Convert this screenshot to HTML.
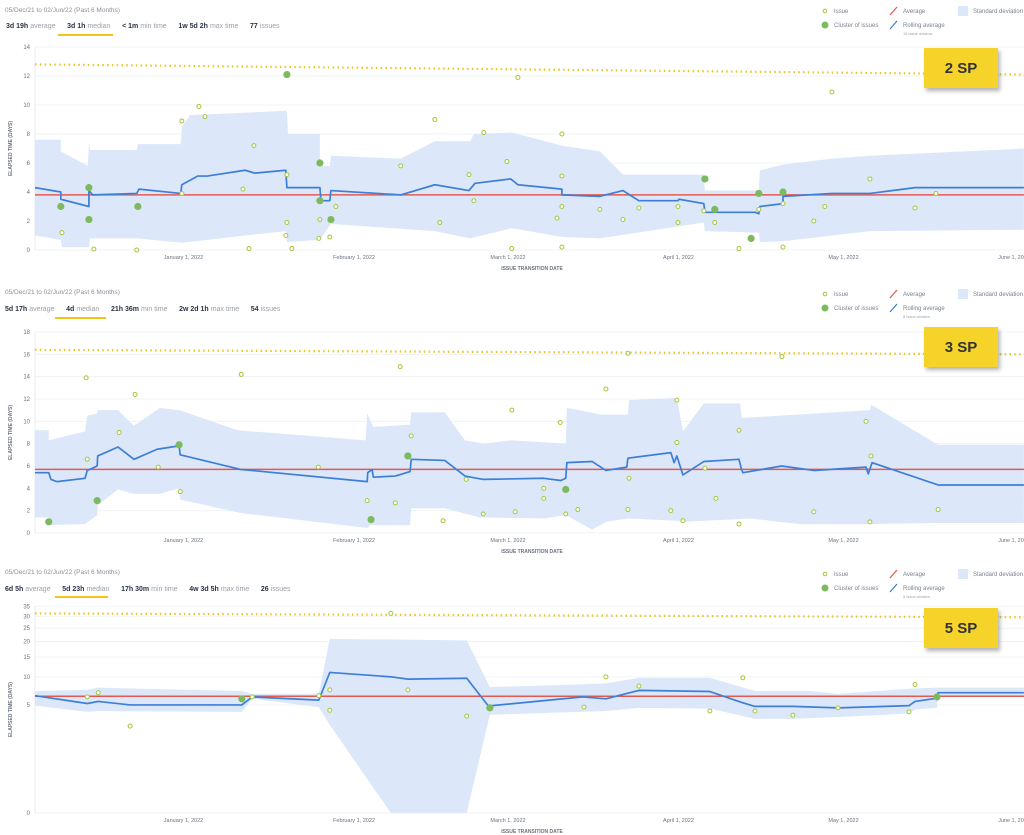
<!DOCTYPE html>
<html><head><meta charset="utf-8">
<style>
body{margin:0;width:1024px;height:835px;background:#fff;font-family:"Liberation Sans",sans-serif;overflow:hidden;position:relative}
.t{position:absolute;white-space:nowrap;color:#8a8f98;font-size:6.5px}
.st{position:absolute;white-space:nowrap;font-size:7px;color:#9aa0a8}
.st b{color:#2a3344;margin-right:2px}
.ul{position:absolute;height:2px;background:#f0c419}
.tag{position:absolute;width:74px;height:40px;background:#f5d328;box-shadow:2px 3px 4px rgba(0,0,0,.3);font:bold 15px "Liberation Sans",sans-serif;color:#333;display:flex;align-items:center;justify-content:center}
svg{position:absolute;left:0;top:0}
</style></head><body>
<svg id="svg" width="1024" height="835"></svg>

<div class="t" style="left:5px;top:7px">05/Dec/21 to 02/Jun/22 (Past 6 Months)</div>
<div class="st" style="left:6px;top:23px"><b>3d 19h</b>average &nbsp;&nbsp;&nbsp;&nbsp; <b>3d 1h</b>median &nbsp;&nbsp;&nbsp;&nbsp; <b>&lt; 1m</b>min time &nbsp;&nbsp;&nbsp;&nbsp; <b>1w 5d 2h</b>max time &nbsp;&nbsp;&nbsp;&nbsp; <b>77</b>issues</div>
<div class="ul" style="left:58px;top:34px;width:55px"></div>

<div class="t" style="left:5px;top:289px">05/Dec/21 to 02/Jun/22 (Past 6 Months)</div>
<div class="st" style="left:5px;top:306px"><b>5d 17h</b>average &nbsp;&nbsp;&nbsp;&nbsp; <b>4d</b>median &nbsp;&nbsp;&nbsp;&nbsp; <b>21h 36m</b>min time &nbsp;&nbsp;&nbsp;&nbsp; <b>2w 2d 1h</b>max time &nbsp;&nbsp;&nbsp;&nbsp; <b>54</b>issues</div>
<div class="ul" style="left:55px;top:317px;width:51px"></div>

<div class="t" style="left:5px;top:569px">05/Dec/21 to 02/Jun/22 (Past 6 Months)</div>
<div class="st" style="left:5px;top:586px"><b>6d 5h</b>average &nbsp;&nbsp;&nbsp;&nbsp; <b>5d 23h</b>median &nbsp;&nbsp;&nbsp;&nbsp; <b>17h 30m</b>min time &nbsp;&nbsp;&nbsp;&nbsp; <b>4w 3d 5h</b>max time &nbsp;&nbsp;&nbsp;&nbsp; <b>26</b>issues</div>
<div class="ul" style="left:55px;top:596px;width:53px"></div>

<div class="tag" style="left:924px;top:48px">2 SP</div>
<div class="tag" style="left:924px;top:327px">3 SP</div>
<div class="tag" style="left:924px;top:608px">5 SP</div>

<script>
// ---- Chart 1 (2 SP) data ----
const c1IssueDays=[4.9,10.7,18.5,26.7,29.8,30.9,26.7,37.8,39.8,38.9,45.8,45.8,45.6,46.7,51.8,51.6,53.6,54.7,66.5,72.7,73.6,78.9,79.8,81.6,85.8,86.7,87.8,95.8,95.8,95.8,94.9,95.8,102.7,106.9,109.8,116.9,116.9,121.6,123.6,128,131.6,136,136,141.6,143.6,144.9,151.8,160,163.8];
const c1IssueVals=[1.2,0.07,0,8.9,9.9,9.2,3.9,4.2,7.2,0.1,5.2,1.9,1.0,0.1,2.1,0.8,0.9,3.0,5.8,9.0,1.9,5.2,3.4,8.1,6.1,0.1,11.9,8.0,5.1,3.0,2.2,0.2,2.8,2.1,2.9,3.0,1.9,2.7,1.9,0.1,2.8,3.2,0.2,2.0,3.0,10.9,4.9,2.9,3.9];
const c1ClusterDays=[4.7,9.8,9.8,18.7,45.8,51.8,51.8,53.8,121.8,123.6,130.2,131.6,136];
const c1ClusterVals=[3.0,4.3,2.1,3.0,12.1,6.0,3.4,2.1,4.9,2.8,0.8,3.9,4.0];
const c1RollDays=[0,4.7,4.7,9.8,9.8,10.5,18.5,18.9,26.5,26.7,29.6,31.3,38.2,40,45.6,45.8,51.8,52,53.6,53.8,66.5,72.7,78.9,80,86.5,87.8,95.8,95.8,102.7,106.9,109.8,116.9,117.1,121.6,121.8,131,131.6,131.8,136,136,144.9,151.8,160,179.8];
const c1RollVals=[4.3,4.0,3.5,3.0,4.1,3.8,3.9,4.2,3.9,4.5,5.1,5.1,5.5,5.3,5.5,4.3,4.3,3.4,3.4,4.1,3.8,4.5,4.1,4.6,4.9,4.5,4.2,3.8,3.7,4.1,3.4,3.4,3.5,3.2,2.6,2.6,2.5,3.0,3.2,3.7,3.9,3.9,4.3,4.3];
const c1UpDays=[0,4.7,4.7,9.6,9.8,10.0,18.5,18.7,26.5,26.7,28.2,45.8,46,51.8,51.8,53.6,53.8,66.5,72.7,79.1,79.8,86.7,95.8,102.7,106.9,121.6,121.8,131.6,131.8,136,144.9,151.8,179.8];
const c1UpVals=[7.6,7.6,6.8,5.8,7.4,6.9,6.9,7.3,7.3,8.5,9.3,9.6,8.0,8.0,5.8,5.8,6.5,6.3,7.5,7.5,8.0,8.1,7.2,6.8,5.2,5.2,4.1,4.1,5.5,5.9,6.3,6.5,7.0];
const c1LoDays=[0,4.7,4.9,9.8,10,18.5,26.7,38.2,45.6,45.8,51.8,53.8,72.7,79.1,86.7,95.8,102.7,121.6,121.8,131.6,131.8,136,151.8,179.8];
const c1LoVals=[1.0,0.7,0.2,0.2,0.8,0.8,0.5,1.0,1.3,0.55,0.7,1.8,1.3,0.8,1.5,0.9,0.8,1.9,1.3,1.2,0.55,0.6,1.3,1.4];
const c1Avg=3.8;
const c1UclStart=12.8, c1UclEnd=12.1;
const c1Ticks=[0,2,4,6,8,10,12,14];

// ---- Chart 2 (3 SP) data ----
const c2IssueDays=[9.3,9.5,18.2,15.3,22.4,26.4,37.5,51.5,60.4,65.5,66.4,68.4,78.4,81.5,74.2,86.7,95.5,92.5,92.5,87.3,96.5,103.8,107.8,108,98.7,107.8,115.6,116.7,116.7,117.8,121.8,123.8,128,128,135.8,141.6,151.1,152,151.8,164.2];
const c2IssueVals=[13.9,6.6,12.4,9.0,5.9,3.7,14.2,5.9,2.9,2.7,14.9,8.7,4.8,1.7,1.1,11.0,9.9,4.0,3.1,1.9,1.7,12.9,16.1,4.9,2.1,2.1,2.0,11.9,8.1,1.1,5.8,3.1,0.8,9.2,15.8,1.9,10.0,6.9,1.0,2.1];
const c2ClusterDays=[2.5,11.3,26.2,61.1,67.8,96.5];
const c2ClusterVals=[1.0,2.9,7.9,1.2,6.9,3.9];
const c2RollDays=[0,2.5,2.9,4,9.1,9.5,11.3,11.4,15.1,18,22.2,26.2,26.4,37.3,60.4,60.5,61.3,61.5,65.5,68.2,68.4,74.5,78.2,81.5,92.5,95.6,96.5,96.7,101.3,103.8,107.6,107.8,115.6,116.2,116.7,117.8,121.6,128,128.4,128.7,135.8,141.6,151.1,151.5,152.2,164.2,179.8];
const c2RollVals=[5.4,5.4,4.8,4.6,4.9,5.6,6.0,6.9,7.7,6.6,7.5,7.8,7.0,5.7,4.6,5.4,5.7,5.0,5.1,5.5,6.6,6.5,5.1,4.8,4.9,4.7,4.9,6.3,6.4,5.6,5.9,6.7,7.2,6.3,6.9,5.2,6.4,6.6,5.8,5.4,6.0,5.6,5.9,5.3,6.3,4.3,4.3];
const c2UpDays=[0,2.5,2.5,9.1,9.5,11.3,11.4,15.1,18,22.7,26.2,36.9,60.1,60.4,61.5,68.2,68.4,74.5,78.2,81.5,86.7,96.5,96.7,103.1,107.8,108,116.7,117.8,121.6,128.2,128.5,151.8,152,164.2,179.8];
const c2UpVals=[9.2,9.2,8.3,9.1,10.5,10.7,11.0,11.0,9.6,11.2,11.0,9.2,8.3,10.7,9.5,9.7,10.8,10.8,8.3,8.0,8.3,8.0,11.2,10.6,10.6,11.9,12.1,9.1,11.6,11.6,10.3,11.0,11.5,7.9,7.9];
const c2LoDays=[0,2.5,2.7,9.1,11.3,11.4,15.1,18,22.7,26.2,26.4,37.3,60.4,61,68.2,68.4,74.5,80.9,92.5,96.5,101.3,103.8,107.8,116.7,117.8,130,139.1,151.8,164.2,179.8];
const c2LoVals=[1.4,1.4,0.7,0.8,1.6,2.5,3.9,3.5,3.5,4.0,3.0,1.8,0.45,0.7,0.7,2.2,2.2,1.4,1.3,1.6,0.3,1.0,1.3,1.1,1.0,1.3,0.8,0.8,0.9,0.9];
const c2Avg=5.7;
const c2UclStart=16.4, c2UclEnd=16.0;
const c2Ticks=[0,2,4,6,8,10,12,14,16,18];

// ---- Chart 3 (5 SP) data ----
const c3IssueDays=[9.5,11.5,17.3,39.5,51.6,53.6,53.6,64.7,67.8,78.5,103.8,99.8,109.8,122.7,128.7,130.9,137.8,146,158.9,160];
const c3IssueVals=[6.2,6.9,2.6,6.2,6.4,7.4,4.3,31.5,7.4,3.6,10.0,4.7,8.1,4.2,9.8,4.2,3.7,4.6,4.1,8.4];
const c3ClusterDays=[37.6,82.7,164];
const c3ClusterVals=[5.9,4.6,6.2];
const c3RollDays=[0,9.5,11.5,17.3,37.6,39.5,51.6,53.6,64.7,67.8,78.5,82.7,83.1,99.6,103.8,109.8,122.7,128.7,130.9,137.8,146,158.9,160,164,164.2,179.8];
const c3RollVals=[6.4,5.2,5.5,5.0,5.0,6.2,5.7,11.0,10.0,9.5,9.7,4.6,4.9,6.2,5.9,7.3,7.1,5.3,4.8,4.8,4.6,4.9,5.5,6.0,6.9,6.9];
const c3UpDays=[0,9.5,11.5,37.6,39.5,51.6,53.6,78.5,82.7,103.8,109.8,122.7,130.9,140.9,146,158.9,164,164.2,179.8];
const c3UpVals=[7.2,7.4,7.8,7.2,6.7,6.7,20.9,20.4,7.9,8.6,9.8,9.8,7.2,7.2,6.7,7.6,7.8,7.8,7.8];
const c3LoDays=[0,9.5,11.5,37.6,39.5,51.6,53.6,64.7,78.5,82.7,103.8,109.8,122.7,130.9,137.8,146,158.9,160,164,164.2,179.8];
const c3LoVals=[4.9,4.1,4.2,4.1,5.9,4.7,2.7,0,0,3.75,4.2,4.6,4.5,3.3,3.3,3.5,3.9,4.4,4.6,6.4,6.4];
const c3Avg=6.3;
const c3UclStart=31.5, c3UclEnd=29.7;
const c3Ticks=[0,5,10,15,20,25,30,35];

const monthLabels=["January 1, 2022","February 1, 2022","March 1, 2022","April 1, 2022","May 1, 2022","June 1, 2022"];
const monthDays=[27,58,86,117,147,178];

const NS="http://www.w3.org/2000/svg";
const svg=document.getElementById('svg');
function mk(tag,attrs,parent){const e=document.createElementNS(NS,tag);for(const k in attrs)e.setAttribute(k,attrs[k]);(parent||svg).appendChild(e);return e;}
const X0=35,PXD=5.5;
function xs(d){return X0+d*PXD;}

function drawChart(cfg){
  const g=mk('g',{});
  
  
  const ys=cfg.ys;
  // grid + ticks
  cfg.ticks.forEach(t=>{
    const y=ys(t);
    const l=mk('line',{x1:X0,x2:1024,y1:y,y2:y,stroke:'#eef0f3','stroke-width':0.8},g);
    
    
    const tx=mk('text',{x:30,y:y+2,'text-anchor':'end','font-size':6,fill:'#6b7280'},g);
    tx.textContent=t;
    
    
  });
  const ax=mk('line',{x1:X0,x2:X0,y1:ys(cfg.ticks[cfg.ticks.length-1]),y2:ys(0),stroke:'#e5e7eb','stroke-width':0.8},g);
  
  
  // band
  let pts=[];
  cfg.upD.forEach((d,i)=>pts.push(xs(d)+','+ys(cfg.upV[i])));
  for(let i=cfg.loD.length-1;i>=0;i--)pts.push(xs(cfg.loD[i])+','+ys(cfg.loV[i]));
  const band=mk('polygon',{points:pts.join(' '),fill:'#dce8fa'},g);
  
  
  // ucl dotted
  const ucl=mk('line',{x1:X0,x2:1024,y1:ys(cfg.uclS),y2:ys(cfg.uclE),stroke:'#ecc923','stroke-width':2.2,'stroke-dasharray':'1.6 3.2'},g);
  
  
  // average
  const avg=mk('line',{x1:X0,x2:1024,y1:ys(cfg.avg),y2:ys(cfg.avg),stroke:'#e55a4e','stroke-width':1.5},g);
  
  
  // rolling
  const rp=cfg.rD.map((d,i)=>xs(d)+','+ys(cfg.rV[i])).join(' ');
  const roll=mk('polyline',{points:rp,fill:'none',stroke:'#3d7fd6','stroke-width':1.7,'stroke-linejoin':'round'},g);
  
  
  // clusters
  cfg.cD.forEach((d,i)=>{
    const c=mk('circle',{cx:xs(d),cy:ys(cfg.cV[i]),r:3.6,fill:'#7dba5e'},g);
    
    
  });
  // issues
  cfg.iD.forEach((d,i)=>{
    const c=mk('circle',{cx:xs(d),cy:ys(cfg.iV[i]),r:2,fill:'#fff',stroke:'#a4c639','stroke-width':1},g);
    
    
  });
  // x labels
  const yb=ys(0);
  monthLabels.forEach((m,i)=>{
    const t=mk('text',{x:xs(monthDays[i]),y:yb+9,'text-anchor':'middle','font-size':5.5,fill:'#6b7280'},g);
    t.textContent=m;
    
    
  });
  const xt=mk('text',{x:532,y:yb+20,'text-anchor':'middle','font-size':5,fill:'#6b7280','font-weight':'bold'},g);
  xt.textContent='ISSUE TRANSITION DATE';
  
  
  const my=(ys(0)+ys(cfg.ticks[cfg.ticks.length-1]))/2;
  const yt=mk('text',{x:12,y:my,'text-anchor':'middle','font-size':5,fill:'#6b7280','font-weight':'bold',transform:'rotate(-90 12 '+my+')'},g);
  yt.textContent='ELAPSED TIME (DAYS)';
  
  
  // legend
  const ly=cfg.legendY;
  const lg=mk('g',{},g);
  
  
  mk('circle',{cx:825,cy:ly,r:1.8,fill:'#fff',stroke:'#a4c639','stroke-width':1},lg);
  mk('circle',{cx:825,cy:ly+14,r:3.5,fill:'#7dba5e'},lg);
  mk('line',{x1:890,y1:ly+4,x2:897,y2:ly-4,stroke:'#e55a4e','stroke-width':1.3},lg);
  mk('line',{x1:890,y1:ly+18,x2:897,y2:ly+10,stroke:'#3d7fd6','stroke-width':1.3},lg);
  mk('rect',{x:958,y:ly-5,width:10,height:10,fill:'#dce8fa'},lg);
  [['Issue',834,ly+2],['Cluster of issues',834,ly+16],['Average',903,ly+2],['Rolling average',903,ly+16],['Standard deviation',973,ly+2]].forEach(a=>{
    const t=mk('text',{x:a[1],y:a[2],'font-size':6,fill:'#7b8290'},lg);
    t.textContent=a[0];
    
    
  });
  const w=mk('text',{x:903,y:ly+24,'font-size':4,fill:'#9aa0a8'},lg);
  w.textContent=cfg.win;
  
  
}

function lin(bottom,top,max){return v=>bottom-(bottom-top)*v/max;}
drawChart({name:'chart-2sp',ys:lin(250,47,14),ticks:c1Ticks,iD:c1IssueDays,iV:c1IssueVals,cD:c1ClusterDays,cV:c1ClusterVals,rD:c1RollDays,rV:c1RollVals,upD:c1UpDays,upV:c1UpVals,loD:c1LoDays,loV:c1LoVals,avg:c1Avg,uclS:c1UclStart,uclE:c1UclEnd,legendY:11,win:'15 issue window'});
drawChart({name:'chart-3sp',ys:lin(533,332,18),ticks:c2Ticks,iD:c2IssueDays,iV:c2IssueVals,cD:c2ClusterDays,cV:c2ClusterVals,rD:c2RollDays,rV:c2RollVals,upD:c2UpDays,upV:c2UpVals,loD:c2LoDays,loV:c2LoVals,avg:c2Avg,uclS:c2UclStart,uclE:c2UclEnd,legendY:294,win:'8 issue window'});
drawChart({name:'chart-5sp',ys:v=>813-63.2*Math.cbrt(v),ticks:c3Ticks,iD:c3IssueDays,iV:c3IssueVals,cD:c3ClusterDays,cV:c3ClusterVals,rD:c3RollDays,rV:c3RollVals,upD:c3UpDays,upV:c3UpVals,loD:c3LoDays,loV:c3LoVals,avg:c3Avg,uclS:c3UclStart,uclE:c3UclEnd,legendY:574,win:'5 issue window'});
</script>
</body></html>
